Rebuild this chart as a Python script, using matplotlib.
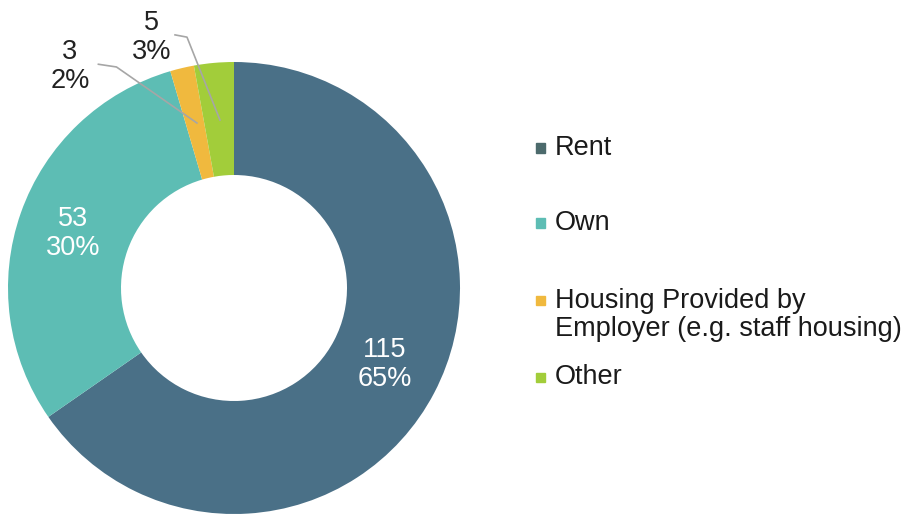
import numpy as np
import matplotlib.pyplot as plt

plt.rcParams['font.family'] = ['Liberation Sans', 'DejaVu Sans']

categories = ['Rent', 'Own', 'Housing Provided by\nEmployer (e.g. staff housing)', 'Other']
counts = [115, 53, 3, 5]
percents = ['65%', '30%', '2%', '3%']
colors = ['#4a7087', '#5dbdb4', '#f0b93e', '#a2cd3a']
legend_colors = ['#4c6a6c', '#5dbdb4', '#f0b93e', '#a2cd3a']

FS = 19.5
W, H = 911, 514
fig = plt.figure(figsize=(W / 100, H / 100), dpi=100)

# pie axes: center (234, 288) px, radius 226 px
R = 226
cx, cy = 234, H - 288
ax = fig.add_axes([(cx - R) / W, (cy - R) / H, 2 * R / W, 2 * R / H])
ax.pie(counts, colors=colors, startangle=90, counterclock=False, radius=1,
       wedgeprops=dict(width=0.5, edgecolor='none'))
ax.set_xlim(-1, 1)
ax.set_ylim(-1, 1)
ax.set_aspect('equal')
ax.axis('off')

# data labels (inside for big slices, outside with leaders for small ones)
label_pos = [(0.668, -0.34), (-0.712, 0.243), (-0.726, 0.982), (-0.365, 1.108)]
label_col = ['white', 'white', '#222222', '#222222']
leaders = [None, None,
           [(-0.60, 0.99), (-0.52, 0.978), (-0.164, 0.73)],
           [(-0.261, 1.12), (-0.208, 1.11), (-0.062, 0.743)]]
for i in range(len(counts)):
    x, y = label_pos[i]
    ax.text(x, y, f'{counts[i]}\n{percents[i]}', color=label_col[i], fontsize=FS,
            ha='center', va='center', linespacing=1.15, clip_on=False)
    if leaders[i] is not None:
        pts = np.array(leaders[i])
        ax.plot(pts[:, 0], pts[:, 1], color='#a6a6a6', lw=1.2, clip_on=False)

# legend drawn by hand to match spacing
leg_y = [148, 223, 315, 377]
for i, lab in enumerate(categories):
    yf = 1 - leg_y[i] / H
    first_line_y = yf + (15 / H if '\n' in lab else 0)
    fig.patches.append(plt.Rectangle((536 / W, first_line_y - 4.5 / H), 9 / W, 9 / H,
                                     transform=fig.transFigure, color=legend_colors[i]))
    fig.text(555 / W, yf, lab, fontsize=FS, va='center', ha='left', color='#1a1a1a',
             linespacing=1.12)

fig.savefig('out.png', dpi=100)
